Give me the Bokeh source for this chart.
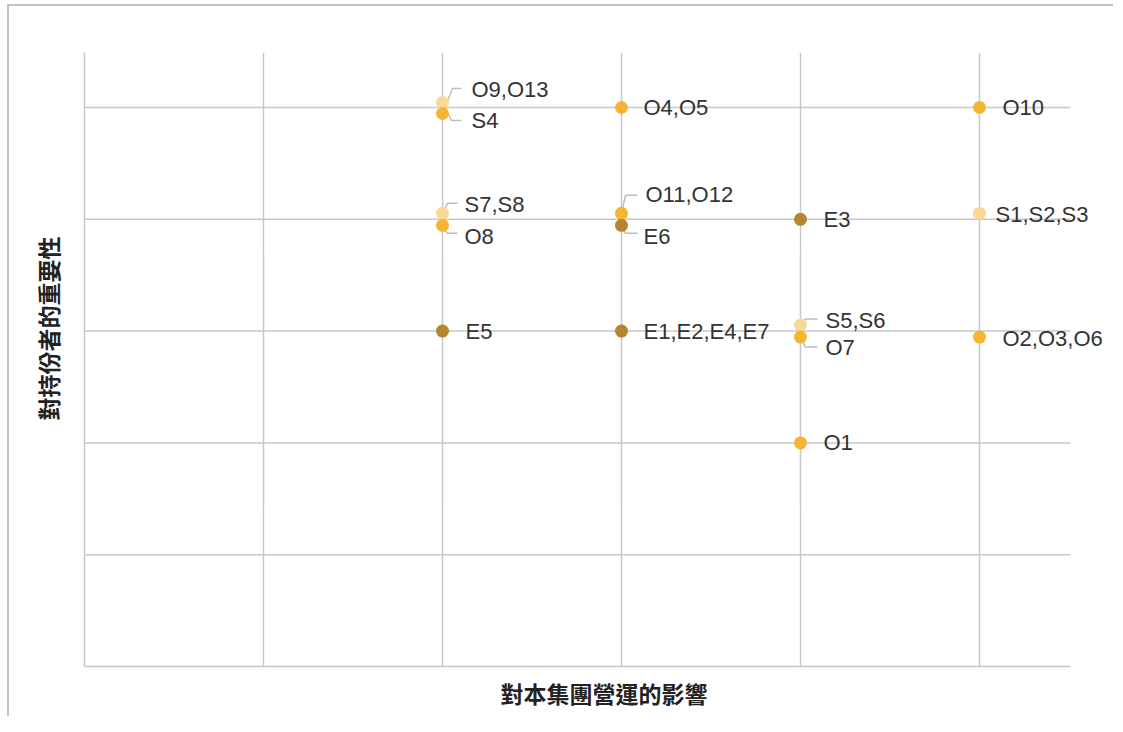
from bokeh.plotting import figure
from bokeh.models import FixedTicker, ColumnDataSource, Range1d, Title
from bokeh.core.properties import value
from bokeh.embed import file_html
from bokeh.resources import INLINE

# ---------------- data ----------------
labels = ["S1,S2,S3", "S4", "S5,S6", "S7,S8",
          "O1", "O2,O3,O6", "O4,O5", "O7", "O8", "O9,O13", "O10", "O11,O12",
          "E1,E2,E4,E7", "E3", "E5", "E6"]
groups = ["S", "S", "S", "S",
          "O", "O", "O", "O", "O", "O", "O", "O",
          "E", "E", "E", "E"]
impact = [5, 2, 4, 2,
          4, 5, 3, 4, 2, 2, 5, 3,
          3, 4, 2, 3]
importance = [4, 5, 3, 4,
              2, 3, 5, 3, 4, 5, 5, 4,
              3, 4, 3, 4]
ticks = [0, 1, 2, 3, 4, 5]
x_title = "對本集團營運的影響"
y_title = "對持份者的重要性"

# ---------------- layout (pixel nudges, styling only) ----------------
colors = {"S": "#f9d995", "O": "#f6b434", "E": "#b5862f"}
dot_dy = [-6, -5, -6, -6,
          0, 6, 0, 6, 6, 6, 0, -6,
          0, 0, 0, 6]
lab_dx = [16, 29, 25, 22,
          23, 23, 22, 25, 22, 29, 23, 24,
          22, 23, 23, 22]
lab_dy = [-5, 13, -11, -15,
          0, 7, 0, 16, 17, -18, 0, -25,
          0, 0, 0, 17]
leaders = {
    "O9,O13": [(10, -19), (19, -19)],
    "S4": [(9, 13), (19, 13)],
    "S7,S8": [(5, -16), (15, -16)],
    "O8": [(5, 14), (15, 14)],
    "O11,O12": [(4, -24), (16, -24)],
    "E6": [(4, 14), (16, 14)],
    "S5,S6": [(5, -12), (17, -12)],
    "O7": [(5, 16), (17, 16)],
}

PXU, PYU = 179.0, 111.8          # pixels per unit
GRID_END = 5.508                 # where the grid stops on the right
FW, FH = 1026, 614
XMAX, YMAX = FW / PXU, FH / PYU
PX, PY = 1 / PXU, 1 / PYU
GRID = "#c8c8c8"

p = figure(frame_width=FW, frame_height=FH,
           x_range=Range1d(0, XMAX), y_range=Range1d(0, YMAX),
           output_backend="svg", toolbar_location=None,
           min_border_left=75, min_border_right=3,
           min_border_top=46, min_border_bottom=50,
           styles={"border-top": "2px solid #c4c4c4",
                   "border-left": "2px solid #c4c4c4",
                   "margin-top": "4px", "margin-left": "7px"})
p.outline_line_color = None

for ax in (p.xaxis, p.yaxis):
    ax.ticker = FixedTicker(ticks=[])
    ax.major_tick_line_color = None
    ax.minor_tick_line_color = None
    ax.axis_line_color = GRID
    ax.axis_line_width = 1.5
p.xaxis.bounds = (0, GRID_END)

p.xgrid.ticker = FixedTicker(ticks=ticks)
p.xgrid.grid_line_color = GRID
p.xgrid.grid_line_width = 1.5
p.ygrid.visible = False
# horizontal grid lines stop at the right end of the grid
p.segment(x0=[0] * (len(ticks) - 1), y0=ticks[1:],
          x1=[GRID_END] * (len(ticks) - 1), y1=ticks[1:],
          line_color=GRID, line_width=1.5)

title_style = dict(text_font="Noto Sans CJK TC", text_font_size="23px",
                   text_font_style="bold", text_color="#222222")
p.add_layout(Title(text=x_title, align="left", offset=416, standoff=14,
                   **title_style), "below")
p.add_layout(Title(text=y_title, align="left", offset=246, standoff=39,
                   **title_style), "left")

# leader lines
lx, ly = [], []
for i, lab in enumerate(labels):
    if lab in leaders:
        xs = [impact[i]]
        ys = [importance[i] - dot_dy[i] * PY]
        for dx, dy in leaders[lab]:
            xs.append(impact[i] + dx * PX)
            ys.append(importance[i] - dy * PY)
        lx.append(xs)
        ly.append(ys)
p.multi_line(lx, ly, line_color="#bdbdbd", line_width=1.5)

src = ColumnDataSource(dict(
    x=impact,
    y=[importance[i] - dot_dy[i] * PY for i in range(len(labels))],
    tx=[impact[i] + lab_dx[i] * PX for i in range(len(labels))],
    ty=[importance[i] - lab_dy[i] * PY for i in range(len(labels))],
    c=[colors[g] for g in groups],
    t=labels,
))
p.scatter("x", "y", source=src, size=13, fill_color="c", line_color=None)
p.text("tx", "ty", text="t", source=src, text_font=value("Liberation Sans"),
       text_font_size="22px", text_color="#333333",
       text_baseline="middle", text_align="left")

open("out.html", "w").write(file_html(p, INLINE))
